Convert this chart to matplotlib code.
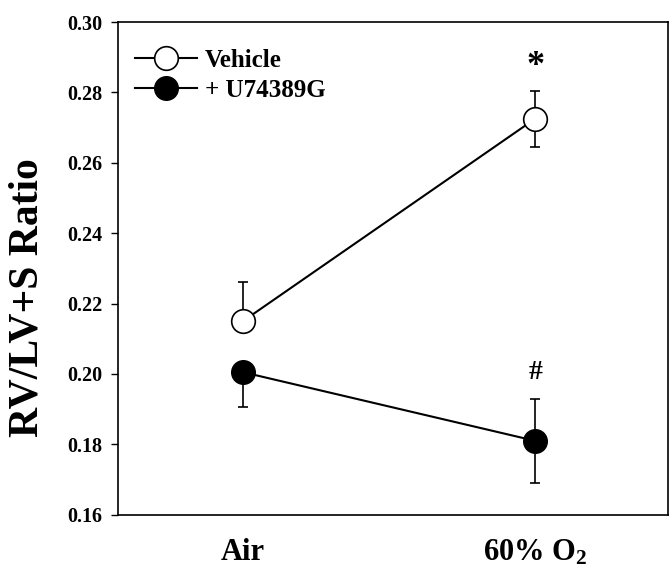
import matplotlib
matplotlib.use("Agg")
import matplotlib.pyplot as plt
from matplotlib.lines import Line2D
import numpy as np

plt.rcParams['font.family'] = ['Liberation Serif', 'DejaVu Serif']
plt.rcParams['font.weight'] = 'bold'
plt.rcParams['mathtext.fontset'] = 'custom'
plt.rcParams['mathtext.rm'] = 'Liberation Serif:bold'
plt.rcParams['mathtext.bf'] = 'Liberation Serif:bold'
plt.rcParams['mathtext.default'] = 'rm'

# data
groups = ["Air", "60% O$_{2}$"]
vehicle = [0.215, 0.2725]
vehicle_err_lo = [0.0, 0.008]
vehicle_err_hi = [0.011, 0.008]
u74389g = [0.2005, 0.181]
u74389g_err_lo = [0.010, 0.012]
u74389g_err_hi = [0.0, 0.012]
marks = ["*", "#"]

x = np.array([1, 2])

fig = plt.figure(figsize=(6.7, 5.79), dpi=100)
ax = fig.add_axes([0.176, 0.111, 0.821, 0.851])

ax.errorbar(x, vehicle, yerr=[vehicle_err_lo, vehicle_err_hi], color='black',
            marker='o', markersize=17, markerfacecolor='white', markeredgecolor='black',
            markeredgewidth=1.2, linewidth=1.5, elinewidth=1.2, capsize=3.3, capthick=1.2,
            zorder=3)
ax.errorbar(x, u74389g, yerr=[u74389g_err_lo, u74389g_err_hi], color='black',
            marker='o', markersize=17, markerfacecolor='black', markeredgecolor='black',
            linewidth=1.5, elinewidth=1.2, capsize=3.3, capthick=1.2,
            zorder=3)

# significance marks above the 60% O2 points
ax.text(x[1], vehicle[1] + vehicle_err_hi[1] + 0.0068, marks[0], ha='center', va='center',
        fontsize=26, fontweight='bold')
ax.text(x[1], u74389g[1] + u74389g_err_hi[1] + 0.0075, marks[1], ha='center', va='center',
        fontsize=20, fontweight='bold')

ax.set_xlim(0.572, 2.455)
ax.set_ylim(0.16, 0.30)
yt = np.arange(0.16, 0.301, 0.02)
ax.set_yticks(yt)
ax.set_yticklabels(["%.2f" % v for v in yt], fontsize=14.5, fontweight='bold')
ax.set_xticks(x)
ax.set_xticklabels(groups, fontsize=22, fontweight='bold')
ax.tick_params(axis='x', length=0, pad=17)
ax.tick_params(axis='y', length=5, width=1, direction='out', pad=6)

fig.text(28 / 670, 1 - 298 / 579, "RV/LV+S Ratio", rotation=90, ha='center', va='center',
         fontsize=30, fontweight='bold')

for s in ax.spines.values():
    s.set_linewidth(1.2)

handles = [
    Line2D([], [], color='black', linewidth=1.5, marker='o', markersize=17,
           markerfacecolor='white', markeredgecolor='black', markeredgewidth=1.2),
    Line2D([], [], color='black', linewidth=1.5, marker='o', markersize=17,
           markerfacecolor='black', markeredgecolor='black'),
]
leg = ax.legend(handles, ['Vehicle', '+ U74389G'], loc='upper left',
                bbox_to_anchor=(0.031, 0.946), frameon=False,
                handlelength=2.5, borderaxespad=0, borderpad=0, labelspacing=0.28,
                handletextpad=0.3, prop={'weight': 'bold', 'size': 18})

plt.savefig("out.png", dpi=100)
